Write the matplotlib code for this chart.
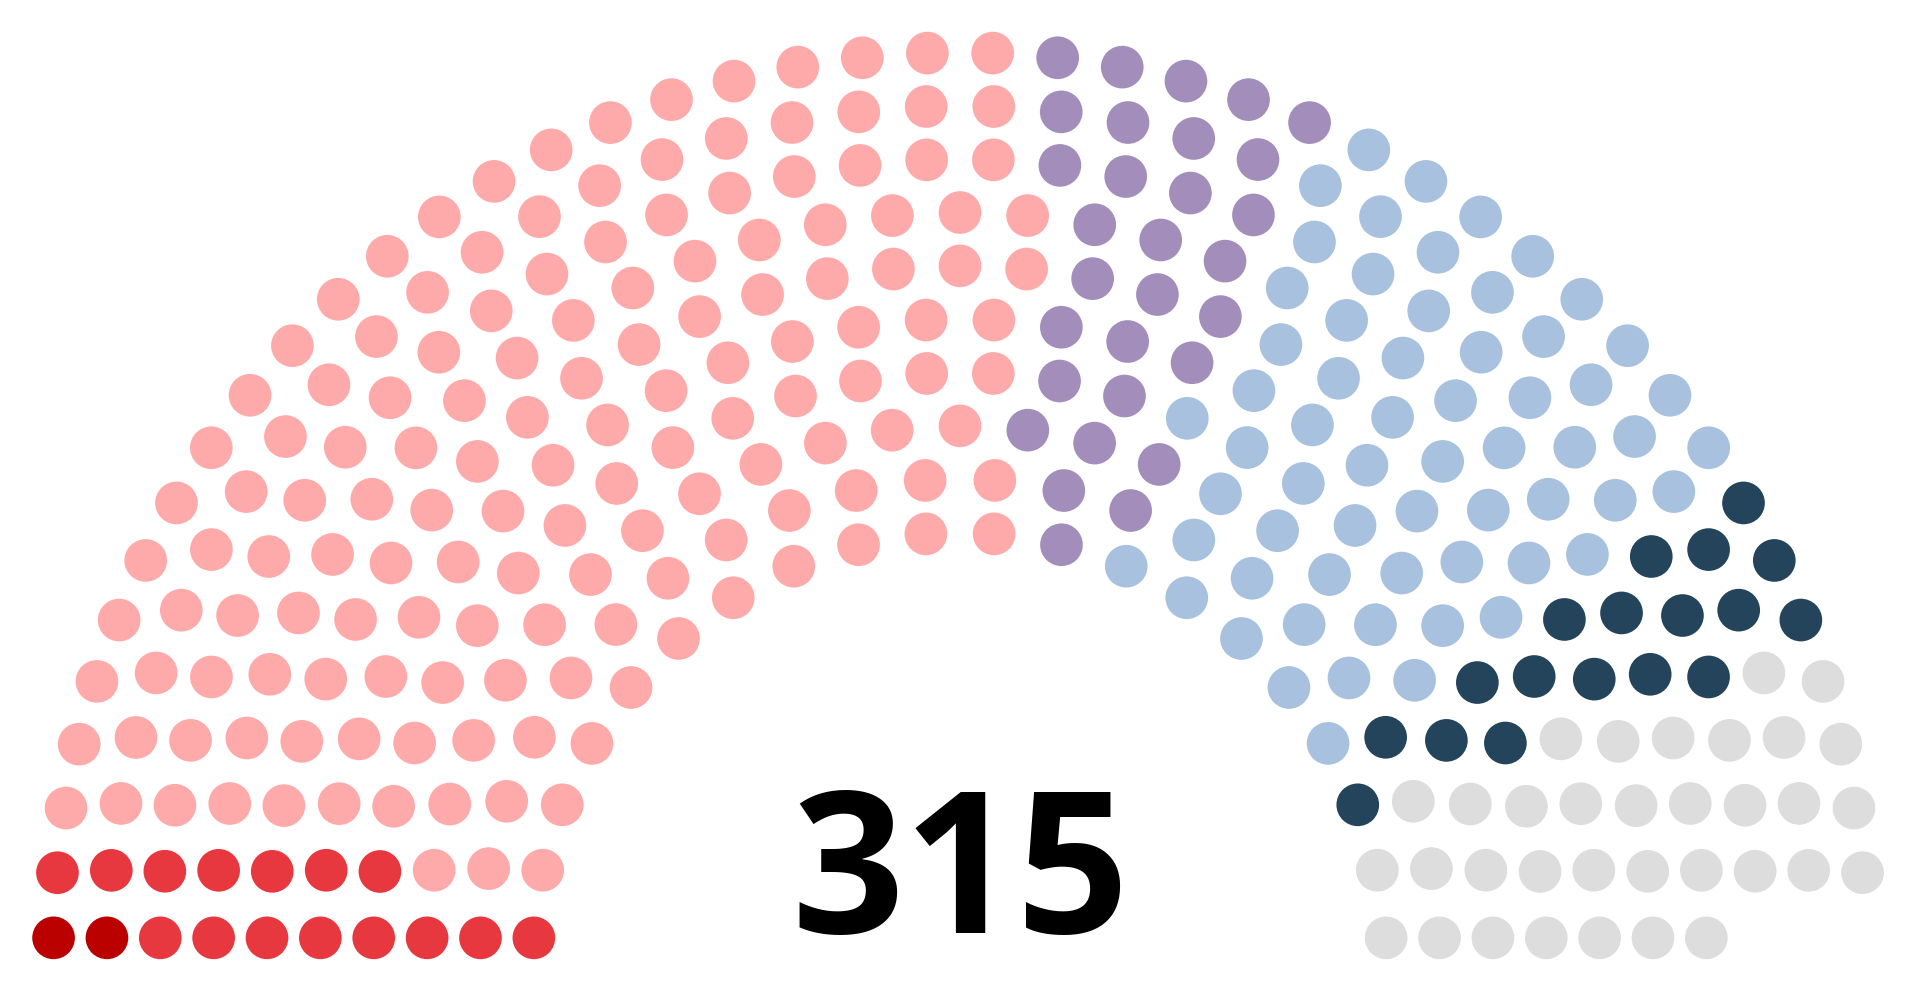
# ----------------------------------------------------------------------------------------------------------------------
# general packages

import math
import matplotlib
matplotlib.use('Agg')
import matplotlib.pyplot as plt
from matplotlib.patches import Circle

# ----------------------------------------------------------------------------------------------------------------------
# data (seats per party, in order from left to right; the last group is drawn in white)

parties = ['Party A', 'Party B', 'Party C', 'Party D', 'Party E', 'Party F', 'Party G', 'Vacant']
seats = [2, 15, 151, 30, 62, 18, 34, 3]
colors = ['#BB0000', '#E8383F', '#FFAAAA', '#A38EBB', '#A7C1DF', '#24445C', '#DDDDDD', '#FFFFFF']

# ----------------------------------------------------------------------------------------------------------------------
# seat layout (arch of concentric rows)

totals = [3, 15, 33, 61, 95, 138, 189, 247, 313, 388, 469, 559, 657, 762, 876, 997]
n_seats = sum(seats)
rows = next(i + 1 for i, t in enumerate(totals) if t >= n_seats)
radius = 0.4 / rows

poslist = []
for i in range(1, rows):
    J = int(float(n_seats) / totals[rows - 1] * math.pi / (2 * math.asin(2.0 / (3.0 * rows + 4.0 * i - 2.0))))
    R = (3.0 * rows + 4.0 * i - 2.0) / (4.0 * rows)
    for j in range(J):
        angle = float(j) * (math.pi - 2.0 * math.sin(radius / R)) / (float(J) - 1.0) + math.sin(radius / R)
        poslist.append([angle, R * math.cos(angle) + 1.75, R * math.sin(angle)])
J = n_seats - len(poslist)
R = (7.0 * rows - 2.0) / (4.0 * rows)
for j in range(J):
    angle = float(j) * (math.pi - 2.0 * math.sin(radius / R)) / (float(J) - 1.0) + math.sin(radius / R)
    poslist.append([angle, R * math.cos(angle) + 1.75, R * math.sin(angle)])
poslist.sort(reverse=True)

# ----------------------------------------------------------------------------------------------------------------------
# plot

fig = plt.figure(figsize=(19.2, 9.87), dpi=100)
ax = fig.add_axes([0, 0, 1, 1])
ax.set_xlim(0, 360)
ax.set_ylim(185, 0)
ax.set_aspect('equal')
ax.axis('off')

k = 0
for p in range(len(parties)):
    for s in range(seats[p]):
        a, x, y = poslist[k]
        k += 1
        ax.add_patch(Circle((x * 100.0 + 5.0, 100.0 * (1.75 - y) + 5.0), radius * 100.0,
                            facecolor=colors[p], edgecolor='none'))

ax.text(180, 175, str(n_seats), ha='center', va='baseline', fontsize=142, fontweight='bold',
        family=['Open Sans', 'DejaVu Sans'], color='black')

fig.savefig('out.png', dpi=100)
